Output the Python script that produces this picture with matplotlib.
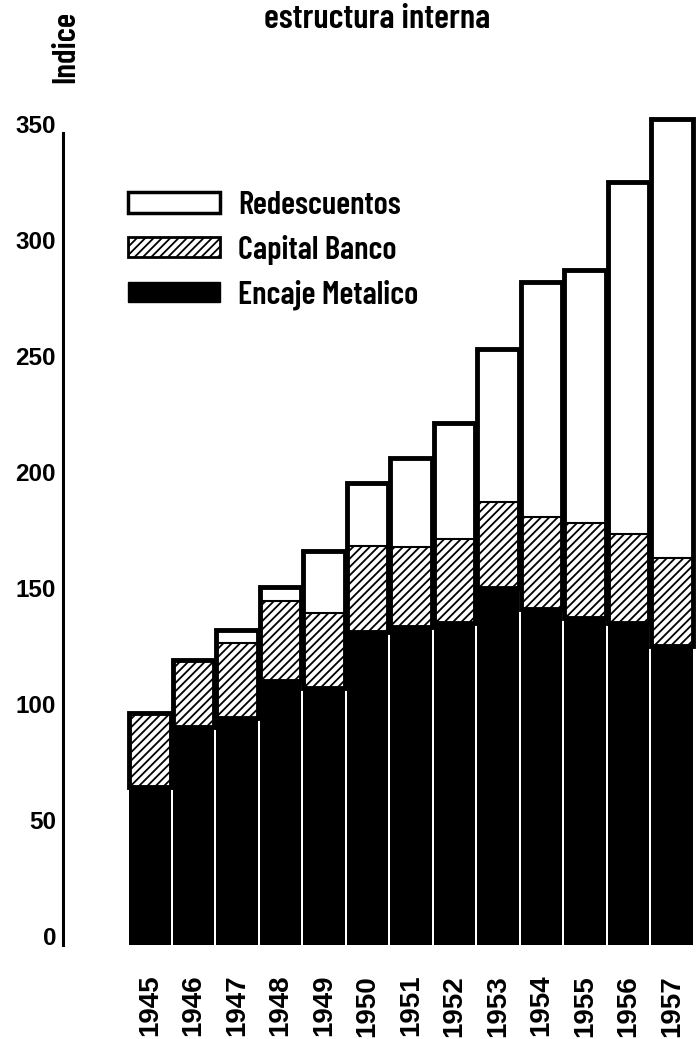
import numpy as np
import matplotlib
matplotlib.use("Agg")
import matplotlib.pyplot as plt
from matplotlib.patches import Patch
from matplotlib import font_manager as fm

# ---------------- data (index values) ----------------
years = ["1945", "1946", "1947", "1948", "1949", "1950", "1951",
         "1952", "1953", "1954", "1955", "1956", "1957"]
encaje_metalico = [68, 94, 98, 114, 111, 135, 137, 139, 154, 145, 141, 139, 129]
capital_banco = [32, 29, 32, 34.5, 32, 37, 34.5, 36, 37, 39.5, 41, 38, 38]
redescuentos = [0, 0, 6, 6, 27, 27, 38.5, 50, 66, 101.5, 109, 152, 189]
yticks = [0, 50, 100, 150, 200, 250, 300, 350]
legend_labels = ["Redescuentos", "Capital Banco", "Encaje Metalico"]
title = "estructura interna"
ylabel = "Indice"

# ---------------- fonts ----------------
avail = {f.name for f in fm.fontManager.ttflist}
NARROW = "DejaVu Sans"
for cand in ["Barlow Condensed", "Archivo Narrow", "Asap Condensed",
             "Liberation Sans Narrow"]:
    if cand in avail:
        NARROW = cand
        break
WIDE = "Liberation Sans" if "Liberation Sans" in avail else "DejaVu Sans"

plt.rcParams["hatch.linewidth"] = 1.3

W_PX, H_PX = 696, 1039
fig = plt.figure(figsize=(W_PX / 100, H_PX / 100), dpi=100)
fig.patch.set_facecolor("white")

ax_left, ax_right = 63, 696
y0_px, ytop_px = 945, 110
YMAX = 360
ax = fig.add_axes([ax_left / W_PX, (H_PX - y0_px) / H_PX,
                   (ax_right - ax_left) / W_PX, (y0_px - ytop_px) / H_PX])

x = np.arange(len(years))
enc = np.array(encaje_metalico, dtype=float)
cap = np.array(capital_banco, dtype=float)
red = np.array(redescuentos, dtype=float)
BW = 0.954

ax.bar(x, enc, width=BW, color="black", linewidth=0, zorder=2)
ax.bar(x, cap, bottom=enc, width=BW, facecolor="white", edgecolor="black",
       hatch="////", linewidth=1.2, zorder=2)
ax.bar(x, red, bottom=enc + cap, width=BW, facecolor="white",
       edgecolor="black", linewidth=1.5, zorder=2)
ax.bar(x, cap + red, bottom=enc, width=BW, fill=False, edgecolor="black",
       linewidth=3.5, zorder=3)

bar_px = 43.5
first_center = 150
ax.set_xlim(-(first_center - ax_left) / bar_px, (ax_right - first_center) / bar_px)
ax.set_ylim(0, YMAX)

for s in ["top", "right", "bottom"]:
    ax.spines[s].set_visible(False)
ax.spines["left"].set_linewidth(2.2)
ax.spines["left"].set_bounds(0, 350)

ax.set_yticks(yticks)
ax.set_yticklabels([str(v) for v in yticks], fontsize=17.5,
                   fontweight="bold", family=WIDE)
for t in ax.get_yticklabels():
    t.set_verticalalignment("baseline")
ax.tick_params(axis="y", length=0, pad=5)

ax.set_xticks(x)
ax.set_xticklabels(years, rotation=90, fontsize=20, fontweight="bold",
                   family=WIDE)
ax.tick_params(axis="x", length=0, pad=21.5)

handles = [Patch(facecolor="white", edgecolor="black", linewidth=2.5),
           Patch(facecolor="white", edgecolor="black", hatch="////", linewidth=2.0),
           Patch(facecolor="black", edgecolor="black", linewidth=1.0)]
fs_leg = 23.5
fs_px = fs_leg * 100 / 72
leg = ax.legend(handles, legend_labels, loc="upper left",
                bbox_to_anchor=(128 / W_PX, 1 - 191 / H_PX),
                bbox_transform=fig.transFigure, frameon=False,
                prop={"family": NARROW, "weight": 600, "size": fs_leg},
                handlelength=92 / fs_px, handleheight=19 / fs_px,
                labelspacing=0.45, handletextpad=18 / fs_px,
                borderpad=0, borderaxespad=0)

fig.text(377 / W_PX, 1 - 20 / H_PX, title, ha="center", va="center",
         fontsize=25, fontweight=600, family=NARROW)
fig.text(66 / W_PX, 1 - 47 / H_PX, ylabel, ha="center", va="center",
         rotation=90, fontsize=24, fontweight=600, family=NARROW)

fig.savefig("out.png", dpi=100, facecolor="white")
